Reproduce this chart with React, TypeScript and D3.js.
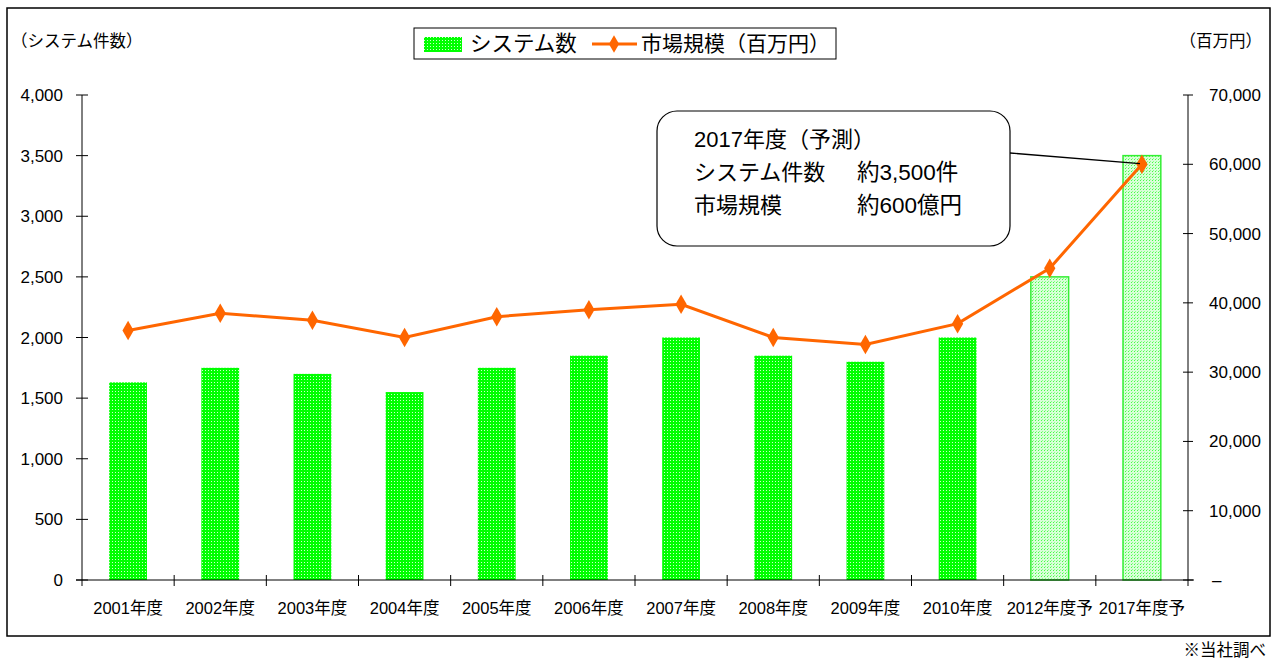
import React from "react";
import * as d3 from "d3";

const categories = ["2001年度", "2002年度", "2003年度", "2004年度", "2005年度", "2006年度", "2007年度", "2008年度", "2009年度", "2010年度", "2012年度予", "2017年度予"];
const systemCounts = [1630, 1750, 1700, 1550, 1750, 1850, 2000, 1850, 1800, 2000, 2500, 3500];
const forecast = [false, false, false, false, false, false, false, false, false, false, true, true];
const marketSize = [36000, 38500, 37500, 35000, 38000, 39000, 39800, 35000, 34000, 37000, 45000, 60000];
const leftTicks = [0, 500, 1000, 1500, 2000, 2500, 3000, 3500, 4000];
const rightTicks = [0, 10000, 20000, 30000, 40000, 50000, 60000, 70000];
const annotationLines = ["2017年度（予測）", "システム件数", "市場規模"];
const annotationValues = ["", "約3,500件", "約600億円"];

const FONT = "'Liberation Sans', Arial, 'Noto Sans CJK JP', sans-serif";

export default function App() {
  const W = 1276, H = 659;
  const left = 82, right = 1188, top = 95, bottom = 580;
  const x = d3.scaleBand<string>().domain(categories).range([left, right]);
  const yL = d3.scaleLinear().domain([0, 4000]).range([bottom, top]);
  const yR = d3.scaleLinear().domain([0, 70000]).range([bottom, top]);
  const bw = x.bandwidth() * 0.41;
  const fmt = d3.format(",");
  const line = d3.line<number>().x((_, i) => x(categories[i])! + x.bandwidth() / 2).y((d) => yR(d));
  const last = categories.length - 1;
  const lastX = x(categories[last])! + x.bandwidth() / 2;
  const lastTop = yL(systemCounts[last]);

  return (
    <div style={{ position: "absolute", left: 0, top: 0 }}>
      <svg width={W} height={H} style={{ display: "block", fontFamily: FONT }}>
        <defs>
          <pattern id="solid" width="3" height="3" patternUnits="userSpaceOnUse">
            <rect width="3" height="3" fill="#00ff00" shapeRendering="crispEdges" />
            <rect x="1" y="1" width="1" height="1" fill="#ccffcc" shapeRendering="crispEdges" />
          </pattern>
          <pattern id="light" width="3" height="3" patternUnits="userSpaceOnUse">
            <rect width="3" height="3" fill="#d8ffd8" shapeRendering="crispEdges" />
            <rect x="0" y="0" width="1" height="1" fill="#44ff44" shapeRendering="crispEdges" />
            <rect x="1" y="2" width="1" height="1" fill="#88ff88" shapeRendering="crispEdges" />
          </pattern>
        </defs>
        <rect x={7} y={8} width={1263} height={628} fill="white" stroke="#000" strokeWidth={1.5} />

        {/* axis titles */}
        <text x={11} y={47} fontSize={16.5} fill="#000">（システム件数）</text>
        <text x={1262} y={47} fontSize={16.5} fill="#000" textAnchor="end">（百万円）</text>

        {/* legend */}
        <rect x={414} y={28} width={422} height={31} fill="white" stroke="#000" strokeWidth={1} />
        <rect x={424} y={37} width={38} height={15} fill="url(#solid)" />
        <text x={470} y={51} fontSize={21.5} fill="#000">システム数</text>
        <line x1={592} x2={637} y1={44} y2={44} stroke="#ff6600" strokeWidth={3} />
        <path d={d3.symbol(d3.symbolDiamond, 90)()!} transform="translate(614,44)" fill="#ff6600" />
        <text x={641} y={51} fontSize={21} fill="#000">市場規模（百万円）</text>

        {/* bars */}
        {systemCounts.map((v, i) => (
          <rect
            key={categories[i]}
            x={x(categories[i])! + (x.bandwidth() - bw) / 2}
            y={yL(v)}
            width={bw}
            height={bottom - yL(v)}
            fill={forecast[i] ? "url(#light)" : "url(#solid)"}
            stroke={forecast[i] ? "#33ee33" : "none"}
            strokeWidth={forecast[i] ? 1.5 : 0}
          />
        ))}

        {/* axes */}
        <line x1={left} x2={left} y1={top} y2={bottom + 6} stroke="#000" strokeWidth={1} />
        <line x1={right} x2={right} y1={top} y2={bottom + 6} stroke="#000" strokeWidth={1} />
        <line x1={left - 6} x2={right + 6} y1={bottom} y2={bottom} stroke="#000" strokeWidth={1} />
        {leftTicks.map((t) => (
          <g key={"l" + t}>
            <line x1={left - 6} x2={left + 6} y1={yL(t)} y2={yL(t)} stroke="#000" />
            <text x={63} y={yL(t) + 6} fontSize={17} textAnchor="end" fill="#000">{fmt(t)}</text>
          </g>
        ))}
        {rightTicks.map((t) => (
          <g key={"r" + t}>
            <line x1={right - 5} x2={right + 5} y1={yR(t)} y2={yR(t)} stroke="#000" />
            <text x={t === 0 ? 1212 : 1209} y={yR(t) + 6} fontSize={17} fill="#000">{t === 0 ? "–" : fmt(t)}</text>
          </g>
        ))}
        {categories.map((c, i) =>
          i > 0 ? <line key={"t" + c} x1={x(c)!} x2={x(c)!} y1={bottom - 5} y2={bottom + 6} stroke="#000" /> : null
        )}
        {categories.map((c) => (
          <text key={"x" + c} x={x(c)! + x.bandwidth() / 2} y={614} fontSize={16.5} textAnchor="middle" fill="#000">{c}</text>
        ))}

        {/* line */}
        <path d={line(marketSize)!} fill="none" stroke="#ff6600" strokeWidth={3} />
        {marketSize.map((v, i) => (
          <path
            key={"m" + i}
            d={d3.symbol(d3.symbolDiamond, 110)()!}
            transform={`translate(${x(categories[i])! + x.bandwidth() / 2},${yR(v)})`}
            fill="#ff6600"
          />
        ))}

        {/* annotation */}
        <line x1={1010} y1={153} x2={lastX - 2} y2={lastTop + 8} stroke="#000" strokeWidth={1.3} />
        <rect x={657} y={111} width={353} height={135} rx={20} ry={20} fill="white" stroke="#000" strokeWidth={1.2} />
        {annotationLines.map((s, i) => (
          <g key={"a" + i}>
            <text x={694} y={147 + i * 33} fontSize={22} fill="#000">{s}</text>
            {annotationValues[i] ? (
              <text x={857} y={147 + i * 33} fontSize={22.5} fill="#000">{annotationValues[i]}</text>
            ) : null}
          </g>
        ))}

        <text x={1266} y={656} fontSize={16.5} textAnchor="end" fill="#000">※当社調べ</text>
      </svg>
    </div>
  );
}
